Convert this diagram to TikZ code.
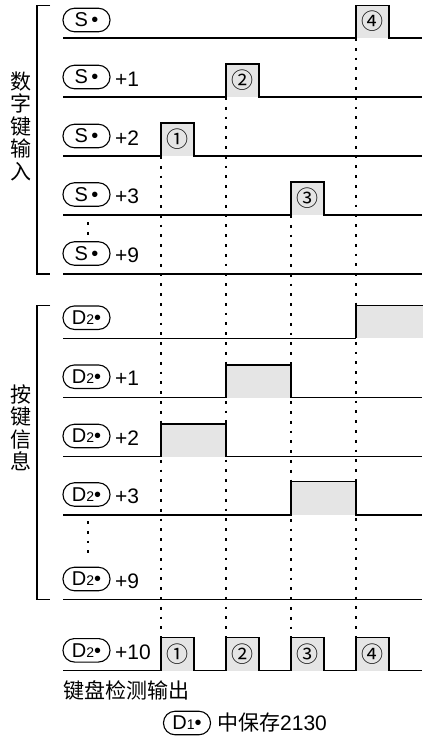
\documentclass[tikz,border=0pt]{standalone}
\usepackage{fontspec}
\setmainfont{Liberation Sans}
\newfontfamily\cjk{Noto Sans CJK SC}
\begin{document}
\begin{tikzpicture}[x=1pt,y=-1pt,
  sig/.style={line width=1.3pt},
  thinsig/.style={line width=0.8pt},
  vdots/.style={line width=1.4pt,dash pattern=on 2.7pt off 7.1pt},
  pfill/.style={fill=black!10},
  oval/.style={draw,line width=1.1pt,rounded corners=11.5pt,minimum width=47pt,minimum height=23.5pt,inner sep=0pt,font=\fontsize{20}{20}\selectfont},
  lbl/.style={anchor=west,inner sep=0pt,font=\fontsize{21}{21}\selectfont},
  cjklbl/.style={inner sep=0pt,font=\cjk\fontsize{21}{22.5}\selectfont,align=center},
  num/.style={inner sep=0pt,font=\cjk\fontsize{22}{22}\selectfont}]
\useasboundingbox (0,0) rectangle (423,737);
\newcommand{\Sdot}{S\,•}
\newcommand{\Ddot}[1]{D{\fontsize{14}{14}\selectfont #1}•}
% vertical dotted guide lines
\coordinate (ga) at (161,156); \coordinate (gae) at (161,637);
\coordinate (gb) at (226,97);  \coordinate (gbe) at (226,637);
\coordinate (gc) at (291,215); \coordinate (gce) at (291,637);
\coordinate (gd) at (356,38);  \coordinate (gde) at (356,637);
\draw[vdots] (ga) -- (gae);
\draw[vdots] (gb) -- (gbe);
\draw[vdots] (gc) -- (gce);
\draw[vdots] (gd) -- (gde);
% left column dots
\coordinate (la) at (88,222); \coordinate (lae) at (88,236);
\draw[vdots] (la) -- (lae);
\coordinate (lb) at (88,521); \coordinate (lbe) at (88,556);
\draw[vdots] (lb) -- (lbe);
% brackets
\draw[sig] (50,5.5) -- (37,5.5) -- (37,274) -- (50,274);
\draw[sig] (50,305.7) -- (37,305.7) -- (37,599.5) -- (50,599.5);
\node[cjklbl] (t1) at (20.7,126) {数\\字\\键\\输\\入};
\node[cjklbl] (t2) at (20.7,428) {按\\键\\信\\息};
% ---- section 1
\fill[pfill] (356,5.3) rectangle (389,38);
\draw[sig] (63,38) -- (356,38) -- (356,5.3) -- (389,5.3) -- (389,38) -- (422,38);
\node[num] (p4) at (372.5,21.6) {④};
\fill[pfill] (226,64) rectangle (259,97);
\draw[sig] (63,97) -- (226,97) -- (226,64) -- (259,64) -- (259,97) -- (422,97);
\node[num] (p2) at (242.5,80.5) {②};
\fill[pfill] (161,123) rectangle (194,156);
\draw[sig] (63,156) -- (161,156) -- (161,123) -- (194,123) -- (194,156) -- (422,156);
\node[num] (p1) at (177.5,139.5) {①};
\fill[pfill] (291,182) rectangle (324,215);
\draw[sig] (63,215) -- (291,215) -- (291,182) -- (324,182) -- (324,215) -- (422,215);
\node[num] (p3) at (307.5,198.5) {③};
\draw[sig] (63,274) -- (422,274);
\node[oval] (s0) at (86.5,20) {\Sdot};
\node[oval] (s1) at (86.5,77) {\Sdot};
\node[lbl] (l1) at (115,79) {+1};
\node[oval] (s2) at (86.5,136) {\Sdot};
\node[lbl] (l2) at (115,138) {+2};
\node[oval] (s3) at (86.5,194.5) {\Sdot};
\node[lbl] (l3) at (115,196.5) {+3};
\node[oval] (s9) at (86.5,253.5) {\Sdot};
\node[lbl] (l9) at (115,255.5) {+9};
% ---- section 2
\fill[pfill] (356,305.7) rectangle (423,338.3);
\draw[thinsig] (63,338.3) -- (356,338.3);
\draw[sig] (356,338.3) -- (356,305.7) -- (423,305.7);
\fill[pfill] (226,365) rectangle (291,397.7);
\draw[sig] (63,397.7) -- (226,397.7) -- (226,365) -- (291,365) -- (291,397.7) -- (422,397.7);
\fill[pfill] (161,424) rectangle (226,456.7);
\draw[sig] (63,456.7) -- (161,456.7) -- (161,424) -- (226,424) -- (226,456.7) -- (422,456.7);
\fill[pfill] (291,481.7) rectangle (356,515);
\draw[sig] (63,515) -- (291,515) -- (291,481.7) -- (356,481.7) -- (356,515) -- (422,515);
\draw[sig] (63,599.5) -- (422,599.5);
\node[oval] (d0) at (86.5,317.7) {\Ddot{2}};
\node[oval] (d1) at (86.5,376.7) {\Ddot{2}};
\node[lbl] (m1) at (115,378.7) {+1};
\node[oval] (d2) at (86.5,436) {\Ddot{2}};
\node[lbl] (m2) at (115,438) {+2};
\node[oval] (d3) at (86.5,494.5) {\Ddot{2}};
\node[lbl] (m3) at (115,496.5) {+3};
\node[oval] (d9) at (86.5,579) {\Ddot{2}};
\node[lbl] (m9) at (115,581) {+9};
% ---- section 3
\fill[pfill] (161,637.7) rectangle (194,670.7);
\fill[pfill] (226,637.7) rectangle (259,670.7);
\fill[pfill] (291,637.7) rectangle (324,670.7);
\fill[pfill] (356,637.7) rectangle (389,670.7);
\draw[sig] (63,670.7) -- (161,670.7) -- (161,637.7) -- (194,637.7) -- (194,670.7)
  -- (226,670.7) -- (226,637.7) -- (259,637.7) -- (259,670.7)
  -- (291,670.7) -- (291,637.7) -- (324,637.7) -- (324,670.7)
  -- (356,670.7) -- (356,637.7) -- (389,637.7) -- (389,670.7) -- (422,670.7);
\node[num] (q1) at (177.5,654.2) {①};
\node[num] (q2) at (242.5,654.2) {②};
\node[num] (q3) at (307.5,654.2) {③};
\node[num] (q4) at (372.5,654.2) {④};
\node[oval] (d10) at (86.5,650.3) {\Ddot{2}};
\node[lbl] (m10) at (115,652.3) {+10};
\node[cjklbl,anchor=west] (out) at (63,690) {键盘检测输出};
\node[oval] (dd1) at (187,723) {\Ddot{1}};
\node[lbl] (sv) at (217,723) {{\cjk 中保存}2130};
\end{tikzpicture}
\end{document}
